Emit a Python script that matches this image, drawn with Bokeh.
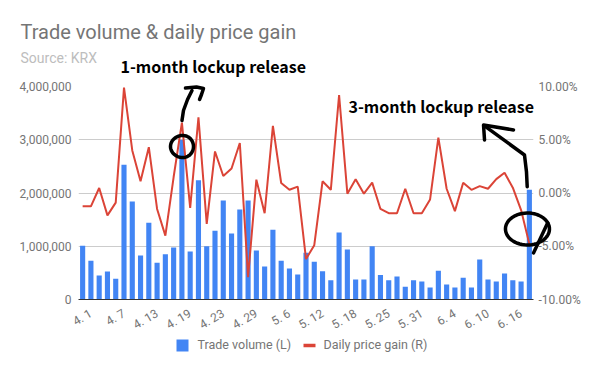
import numpy as np
from bokeh.plotting import figure
from bokeh.models import (Range1d, LinearAxis, FixedTicker, NumeralTickFormatter,
                          PrintfTickFormatter)
from bokeh.core.properties import value
from bokeh.embed import file_html
from bokeh.resources import INLINE

# ---------------- data ----------------
tick_labels = ["4. 1", "4. 7", "4. 13", "4. 19", "4. 23", "4. 29", "5. 6", "5. 12",
               "5. 18", "5. 25", "5. 31", "6. 4", "6. 10", "6. 16"]
label_step = 4  # one date label every 4 trading days

volume = [1010000, 730000, 450000, 525000, 390000, 2530000, 1840000, 825000, 1440000, 690000,
          850000, 975000, 3000000, 900000, 2240000, 1000000, 1290000, 1860000, 1240000, 1690000,
          1860000, 920000, 620000, 1310000, 730000, 580000, 470000, 880000, 710000, 530000,
          360000, 1260000, 940000, 375000, 375000, 1000000, 460000, 360000, 430000, 240000,
          360000, 340000, 225000, 540000, 280000, 225000, 410000, 225000, 750000, 375000,
          340000, 490000, 360000, 340000, 2060000]

price_gain = [-1.25, -1.25, 0.47, -2.1, -0.9, 9.9, 4.0, 1.1, 4.3, -1.5,
              -4.0, 1.5, 6.6, -1.4, 7.1, -2.9, 3.9, 1.6, 2.3, 4.7,
              -7.9, 1.25, -1.9, 6.3, 0.94, 0.3, 0.6, -6.2, -4.9, 1.1,
              0.3, 9.2, -0.06, 1.3, -0.06, 0.97, -1.5, -1.9, -1.9, 0.4,
              -1.9, -1.9, -0.6, 5.2, 0.4, -1.7, 0.97, 0.3, 0.65, 0.4,
              1.3, 1.9, 0.5, -1.6, -4.8]

series_names = ["Trade volume (L)", "Daily price gain (R)"]
title_text = "Trade volume & daily price gain"
subtitle_text = "Source: KRX"
note_1m = "1-month lockup release"
note_3m = "3-month lockup release"

# ---------------- styling / geometry ----------------
BLUE = "#4285F4"
RED = "#DB4437"
GRAY = "#757575"
FONT = "Roboto"
NOTE_FONT = "Noto Sans CJK KR"
VOL_MAX = 4000000
WIDTH, HEIGHT = 600, 371
B_LEFT, B_RIGHT, B_TOP, B_BOTTOM = 78, 67, 86, 72
LABEL_NUDGE = 1  # slanted labels end past their bar, so they look centred under it

n = len(volume)
x = list(range(n))

p = figure(width=WIDTH, height=HEIGHT, output_backend="svg", toolbar_location=None,
           x_range=Range1d(-0.5, n - 0.5), y_range=Range1d(0, VOL_MAX),
           min_border_left=B_LEFT, min_border_right=B_RIGHT,
           min_border_top=B_TOP, min_border_bottom=B_BOTTOM)
p.extra_y_ranges = {"pct": Range1d(-10, 10)}
p.outline_line_color = None
p.background_fill_color = "white"
p.border_fill_color = "white"

p.xgrid.grid_line_color = None
p.ygrid.grid_line_color = "#cccccc"
p.ygrid.ticker = FixedTicker(ticks=[1000000, 2000000, 3000000, 4000000])

xa = p.xaxis[0]
label_pos = [i * label_step + LABEL_NUDGE for i in range(len(tick_labels))]
xa.ticker = FixedTicker(ticks=label_pos)
xa.major_label_overrides = {pos: t for pos, t in zip(label_pos, tick_labels)}
xa.major_label_orientation = np.pi / 6
xa.axis_line_color = "#333333"
xa.axis_line_width = 1
xa.major_tick_line_color = None
xa.major_tick_out = 0
xa.minor_tick_line_color = None
xa.major_label_text_font = FONT
xa.major_label_text_font_size = "12px"
xa.major_label_text_color = GRAY
xa.major_label_standoff = 13

ya = p.yaxis[0]
ya.ticker = FixedTicker(ticks=[0, 1000000, 2000000, 3000000, 4000000])
ya.formatter = NumeralTickFormatter(format="0,0")
ya.axis_line_color = None
ya.major_tick_line_color = None
ya.major_tick_out = 0
ya.minor_tick_line_color = None
ya.major_label_text_font = FONT
ya.major_label_text_font_size = "12px"
ya.major_label_text_color = GRAY
ya.major_label_standoff = 7

ra = LinearAxis(y_range_name="pct")
ra.ticker = FixedTicker(ticks=[-10, -5, 0, 5, 10])
ra.formatter = PrintfTickFormatter(format="%.2f%%")
ra.axis_line_color = None
ra.major_tick_line_color = None
ra.major_tick_out = 0
ra.minor_tick_line_color = None
ra.major_label_text_font = FONT
ra.major_label_text_font_size = "12px"
ra.major_label_text_color = GRAY
ra.major_label_standoff = 5
p.add_layout(ra, "right")

r_bar = p.vbar(x=x, top=volume, width=0.62, fill_color=BLUE, line_color=None)
r_line = p.line(x=x, y=price_gain, line_color=RED, line_width=2, y_range_name="pct")

# pixel offsets from the frame corners -> data units (for annotation placement only)
frame_w = WIDTH - B_LEFT - B_RIGHT
frame_h = HEIGHT - B_TOP - B_BOTTOM
def data_x(px_from_left):
    return -0.5 + px_from_left * n / frame_w
def data_y(px_below_bottom):
    return -px_below_bottom * VOL_MAX / frame_h

# hand-drawn marks, anchored on data points (overlay level: not clipped to the frame)
INK = dict(line_color="black", line_width=3.5, line_cap="round", line_join="round", level="overlay")

ax_, ay_ = 12, volume[12]
t = np.linspace(0.3, 0.3 + 2 * np.pi + 0.5, 60)
p.line(x=ax_ + 0.01 + 1.39 * np.cos(t),
       y=ay_ - 127000 + 207000 * np.sin(t) * (1 + 0.05 * np.cos(t)), **INK)
arrow1_dx = [0.01, 0.19, 0.68, 1.22]
arrow1_dy = [361000, 549000, 756000, 925000]
p.line(x=[ax_ + d for d in arrow1_dx], y=[ay_ + d for d in arrow1_dy], **INK)
head1_dx = [0.43, 1.76, 2.61, 2.37, 2.13]
head1_dy = [972000, 991000, 962000, 850000, 756000]
p.line(x=[ax_ + d for d in head1_dx], y=[ay_ + d for d in head1_dy], **INK)

bx_, by_ = n - 1, price_gain[-1]
t2 = np.linspace(0.15, 0.15 + 2 * np.pi + 0.25, 60)
lx = bx_ - 0.23 + 2.66 * np.cos(t2)
ly = by_ + 1.42 + 1.5 * np.sin(t2)
p.line(x=lx, y=ly, y_range_name="pct", **INK)
p.line(x=[lx[-1], bx_ + 0.5], y=[ly[-1], by_ - 0.83], y_range_name="pct", **INK)
arrow2_dx = [-0.26, -0.35, -0.59, -5.3]
arrow2_dy = [5.39, 6.8, 8.37, 11.03]
p.line(x=[bx_ + d for d in arrow2_dx], y=[by_ + d for d in arrow2_dy], y_range_name="pct", **INK)
head2_dx = [-5.42, -5.54, -1.92]
head2_dy = [9.78, 11.18, 10.72]
p.line(x=[bx_ + d for d in head2_dx], y=[by_ + d for d in head2_dy], y_range_name="pct", **INK)

# texts, anchored at a frame corner and offset in pixels
def note(txt, cx, cy, dx, dy, font, size, color, style="normal"):
    p.text(x=[cx], y=[cy], text=[txt], x_offset=dx, y_offset=dy,
           text_font=value(font), text_font_size=size, text_color=color,
           text_font_style=style, text_align="left", text_baseline="alphabetic",
           level="overlay")

note(title_text, -0.5, VOL_MAX, -58, -55, FONT, "20px", GRAY)
note(subtitle_text, -0.5, VOL_MAX, -58, -29, FONT, "14px", "#bdbdbd")
note(note_1m, -0.5, VOL_MAX, 42, -21, NOTE_FONT, "16px", "black", "bold")
note(note_3m, -0.5, VOL_MAX, 270, 19, NOTE_FONT, "16px", "black", "bold")

# legend (drawn below the frame)
p.rect(x=[data_x(104)], y=[data_y(46)], width=12, height=12, width_units="screen",
       height_units="screen", fill_color=BLUE, line_color=None, level="overlay")
p.segment(x0=[data_x(225)], y0=[data_y(46)], x1=[data_x(237)], y1=[data_y(46)],
          line_color=RED, line_width=3.5, level="overlay")
note(series_names[0], -0.5, 0, 119, 45, FONT, "12.5px", GRAY)
note(series_names[1], -0.5, 0, 245, 45, FONT, "12.5px", GRAY)

open("out.html", "w").write(file_html(p, INLINE))
